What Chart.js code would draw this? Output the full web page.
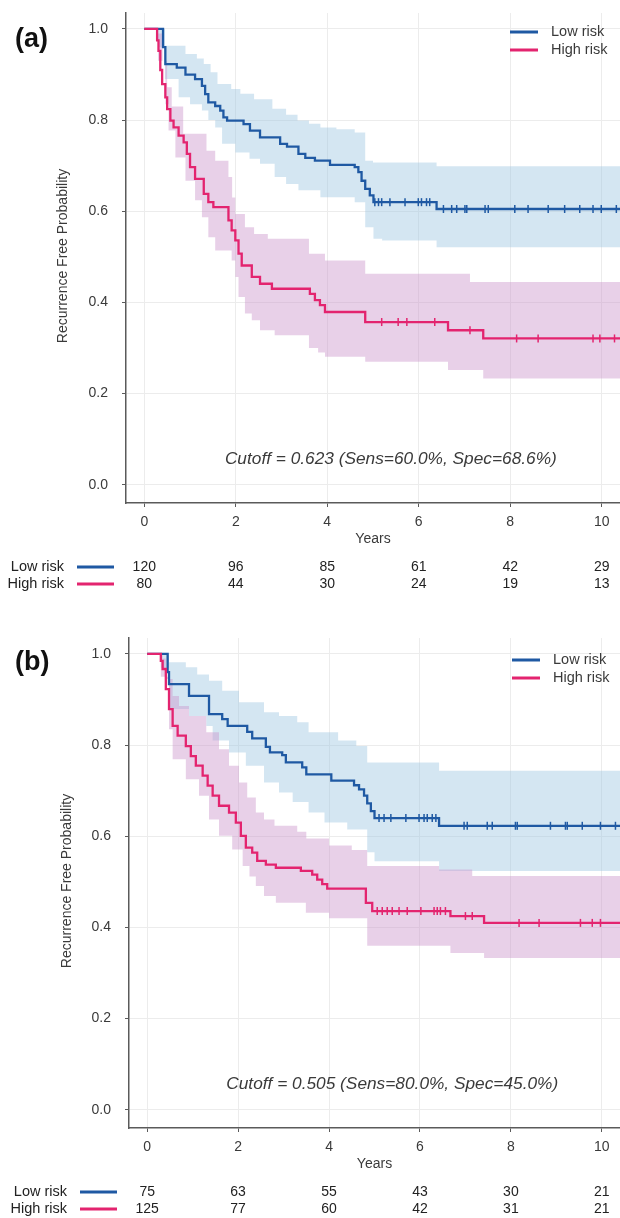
<!DOCTYPE html>
<html>
<head>
<meta charset="utf-8">
<script src="https://cdn.jsdelivr.net/npm/chart.js@4/dist/chart.umd.min.js"></script>
<style>
  html, body { margin: 0; padding: 0; background: #ffffff; }
  body { width: 620px; height: 1218px; position: relative; overflow: hidden; }
  .panel { position: absolute; left: 0; width: 620px; }
</style>
</head>
<body>
<div class="panel" style="top:-13px;height:622px"><canvas id="chartA" width="620" height="622"></canvas></div>
<div class="panel" style="top:609px;height:609px"><canvas id="chartB" width="620" height="609"></canvas></div>
<script>
// ---------- shared axis / table data ----------
const xTicks = [0, 2, 4, 6, 8, 10];
const yTicks = [0, 0.2, 0.4, 0.6, 0.8, 1.0];
const riskTimes = [0, 2, 4, 6, 8, 10];
const groupNames = ['Low risk', 'High risk'];

// ---------- panel (a) ----------
const aLowT = [0, 0.41, 0.46, 0.71, 0.90, 1.11, 1.26, 1.33, 1.40, 1.55, 1.66, 1.73, 1.81, 2.17, 2.31, 2.53, 2.97, 3.12, 3.37, 3.52, 3.73, 4.06, 4.60, 4.68, 4.75, 4.83, 4.93, 5.01, 6.39, 10.4];
const aLowS = [1, 0.96, 0.923, 0.915, 0.90, 0.89, 0.875, 0.857, 0.839, 0.831, 0.821, 0.806, 0.799, 0.791, 0.777, 0.762, 0.748, 0.742, 0.726, 0.717, 0.711, 0.702, 0.697, 0.686, 0.667, 0.649, 0.635, 0.620, 0.605, 0.605];
const aLowUpT = [0, 0.45, 0.90, 1.15, 1.30, 1.45, 1.60, 1.90, 2.10, 2.40, 2.80, 3.10, 3.35, 3.60, 3.85, 4.20, 4.60, 4.83, 5.00, 6.39, 10.4];
const aLowUpS = [1, 0.963, 0.945, 0.935, 0.923, 0.905, 0.879, 0.868, 0.858, 0.846, 0.825, 0.812, 0.799, 0.792, 0.784, 0.780, 0.773, 0.711, 0.707, 0.699, 0.699];
const aLowLoT = [0, 0.30, 0.45, 0.75, 1.00, 1.26, 1.40, 1.55, 1.70, 1.99, 2.30, 2.53, 2.85, 3.10, 3.37, 3.85, 4.60, 4.83, 5.01, 5.20, 6.39, 10.4];
const aLowLoS = [1, 0.96, 0.89, 0.85, 0.835, 0.821, 0.80, 0.784, 0.748, 0.729, 0.715, 0.704, 0.675, 0.66, 0.646, 0.631, 0.62, 0.565, 0.54, 0.536, 0.521, 0.521];
const aLowCens = [5.04, 5.12, 5.19, 5.37, 5.70, 5.99, 6.06, 6.17, 6.24, 6.54, 6.72, 6.83, 7.01, 7.05, 7.45, 7.52, 8.10, 8.39, 8.83, 9.19, 9.52, 9.81, 9.99, 10.32];

const aHighT = [0, 0.28, 0.31, 0.35, 0.39, 0.46, 0.50, 0.57, 0.64, 0.75, 0.86, 0.93, 1.00, 1.11, 1.30, 1.40, 1.51, 1.84, 1.91, 1.99, 2.06, 2.13, 2.35, 2.53, 2.79, 3.62, 3.73, 3.84, 3.95, 4.83, 6.64, 7.41, 10.4];
const aHighS = [1, 0.975, 0.952, 0.91, 0.879, 0.85, 0.824, 0.799, 0.784, 0.766, 0.751, 0.726, 0.697, 0.671, 0.638, 0.62, 0.609, 0.58, 0.558, 0.536, 0.507, 0.481, 0.456, 0.441, 0.430, 0.419, 0.405, 0.394, 0.379, 0.357, 0.339, 0.321, 0.321];
const aHighUpT = [0, 0.30, 0.40, 0.50, 0.60, 0.85, 1.36, 1.55, 1.84, 1.92, 1.99, 2.20, 2.40, 2.70, 3.60, 3.95, 4.83, 7.12, 10.4];
const aHighUpS = [1, 0.99, 0.93, 0.872, 0.83, 0.77, 0.733, 0.711, 0.675, 0.63, 0.594, 0.565, 0.55, 0.54, 0.507, 0.492, 0.463, 0.445, 0.445];
const aHighLoT = [0, 0.30, 0.46, 0.53, 0.68, 0.90, 1.11, 1.26, 1.40, 1.55, 1.91, 1.99, 2.06, 2.20, 2.35, 2.53, 2.85, 3.60, 3.80, 3.95, 4.83, 6.64, 7.41, 10.4];
const aHighLoS = [1, 0.93, 0.835, 0.777, 0.718, 0.667, 0.624, 0.587, 0.543, 0.514, 0.492, 0.456, 0.412, 0.376, 0.361, 0.339, 0.328, 0.30, 0.29, 0.281, 0.270, 0.252, 0.233, 0.233];
const aHighCens = [5.19, 5.55, 5.74, 6.35, 7.12, 8.14, 8.61, 9.81, 9.96, 10.28];

const aRiskLow = [120, 96, 85, 61, 42, 29];
const aRiskHigh = [80, 44, 30, 24, 19, 13];
const aLabel = '(a)';
const aNote = 'Cutoff = 0.623 (Sens=60.0%, Spec=68.6%)';

// ---------- panel (b) ----------
const bLowT = [0, 0.45, 0.48, 0.92, 1.36, 1.65, 1.77, 2.20, 2.31, 2.61, 2.70, 2.97, 3.05, 3.41, 3.50, 4.05, 4.55, 4.66, 4.77, 4.84, 4.92, 5.00, 6.42, 10.4];
const bLowS = [1, 0.96, 0.934, 0.908, 0.868, 0.857, 0.842, 0.829, 0.815, 0.796, 0.784, 0.778, 0.762, 0.751, 0.736, 0.722, 0.712, 0.703, 0.689, 0.672, 0.655, 0.640, 0.623, 0.623];
const bLowUpT = [0, 0.48, 0.85, 1.10, 1.36, 1.65, 2.02, 2.57, 2.90, 3.30, 3.55, 4.20, 4.60, 4.84, 6.42, 10.4];
const bLowUpS = [1, 0.982, 0.971, 0.955, 0.941, 0.919, 0.894, 0.872, 0.864, 0.85, 0.828, 0.81, 0.798, 0.762, 0.744, 0.744];
const bLowLoT = [0, 0.30, 0.48, 0.92, 1.30, 1.44, 1.80, 2.17, 2.57, 2.90, 3.20, 3.55, 3.90, 4.40, 4.84, 5.00, 6.42, 10.4];
const bLowLoS = [1, 0.97, 0.879, 0.864, 0.842, 0.81, 0.784, 0.755, 0.718, 0.696, 0.675, 0.652, 0.63, 0.615, 0.565, 0.545, 0.524, 0.524];
const bLowCens = [5.10, 5.21, 5.36, 5.69, 5.98, 6.09, 6.16, 6.27, 6.35, 6.97, 7.04, 7.48, 7.59, 8.10, 8.14, 8.87, 9.20, 9.24, 9.57, 9.97, 10.30];

const bHighT = [0, 0.30, 0.34, 0.41, 0.48, 0.56, 0.67, 0.85, 0.96, 1.07, 1.22, 1.33, 1.44, 1.58, 1.80, 1.95, 2.06, 2.17, 2.31, 2.42, 2.61, 2.83, 3.38, 3.63, 3.74, 3.85, 3.96, 4.81, 4.95, 6.67, 7.41, 10.4];
const bHighS = [1, 0.985, 0.967, 0.923, 0.879, 0.842, 0.821, 0.798, 0.776, 0.755, 0.733, 0.711, 0.689, 0.667, 0.652, 0.630, 0.601, 0.575, 0.564, 0.546, 0.538, 0.531, 0.524, 0.516, 0.505, 0.495, 0.485, 0.454, 0.436, 0.425, 0.410, 0.410];
const bHighUpT = [0, 0.34, 0.41, 0.56, 0.70, 0.92, 1.30, 1.58, 1.80, 2.02, 2.20, 2.39, 2.57, 2.80, 3.30, 3.50, 4.00, 4.50, 4.84, 6.42, 7.15, 10.4];
const bHighUpS = [1, 0.99, 0.945, 0.908, 0.886, 0.864, 0.828, 0.791, 0.755, 0.718, 0.685, 0.652, 0.637, 0.623, 0.61, 0.595, 0.58, 0.57, 0.535, 0.527, 0.513, 0.513];
const bHighLoT = [0, 0.30, 0.48, 0.56, 0.85, 1.14, 1.36, 1.58, 1.87, 2.10, 2.25, 2.39, 2.57, 2.83, 3.49, 4.00, 4.84, 6.67, 7.41, 10.4];
const bHighLoS = [1, 0.95, 0.835, 0.769, 0.725, 0.689, 0.637, 0.601, 0.571, 0.535, 0.512, 0.491, 0.469, 0.454, 0.432, 0.42, 0.36, 0.344, 0.333, 0.333];
const bHighCens = [5.06, 5.17, 5.28, 5.39, 5.54, 5.72, 6.02, 6.31, 6.38, 6.45, 6.56, 7.00, 7.15, 8.18, 8.62, 9.53, 9.79, 9.97];

const bRiskLow = [75, 63, 55, 43, 30, 21];
const bRiskHigh = [125, 77, 60, 42, 31, 21];
const bLabel = '(b)';
const bNote = 'Cutoff = 0.505 (Sens=80.0%, Spec=45.0%)';

// ---------- styling ----------
const FONT = '"Liberation Sans", Arial, Helvetica, sans-serif';
const BLUE = '#1f59a3';
const PINK = '#e3246f';
const BLUE_BAND = 'rgba(160,200,226,0.45)';
const PINK_BAND = 'rgba(205,150,205,0.45)';
const AXIS = '#5a5a5a';
const GRID = '#ececec';
const TEXT = '#3a3a3a';

function pts(T, S) { return T.map((t, i) => ({ x: t, y: S[i] })); }
function stepAt(T, S, t) { let v = S[0]; for (let i = 0; i < T.length; i++) { if (T[i] <= t) v = S[i]; } return v; }
function censPts(C, T, S) { return C.map(t => ({ x: t, y: stepAt(T, S, t) })); }

function makePanel(id, p) {
  const textPlugin = {
    id: 'kmText_' + id,
    afterDraw(chart) {
      const ctx = chart.ctx;
      const xs = chart.scales.x, ys = chart.scales.y;
      const area = chart.chartArea;
      ctx.save();
      // panel label
      ctx.fillStyle = '#111';
      ctx.font = 'bold 27px ' + FONT;
      ctx.textAlign = 'left';
      ctx.textBaseline = 'alphabetic';
      ctx.fillText(p.label, 15, p.labelBase);
      // y axis title
      ctx.save();
      ctx.translate(p.yTitleX, (area.top + area.bottom) / 2 - 2);
      ctx.rotate(-Math.PI / 2);
      ctx.font = '14px ' + FONT;
      ctx.fillStyle = TEXT;
      ctx.textAlign = 'center';
      ctx.textBaseline = 'middle';
      ctx.fillText('Recurrence Free Probability', 0, 0);
      ctx.restore();
      // legend
      const colors = [BLUE, PINK];
      ctx.font = '14.5px ' + FONT;
      ctx.textBaseline = 'middle';
      ctx.textAlign = 'left';
      groupNames.forEach((g, i) => {
        const y = p.legendY + i * 18;
        ctx.strokeStyle = colors[i];
        ctx.lineWidth = 3;
        ctx.beginPath();
        ctx.moveTo(p.legendX, y);
        ctx.lineTo(p.legendX + 28, y);
        ctx.stroke();
        ctx.fillStyle = TEXT;
        ctx.fillText(g, p.legendX + 41, y);
      });
      // annotation
      ctx.font = 'italic 17.3px ' + FONT;
      ctx.fillStyle = TEXT;
      ctx.textAlign = 'center';
      ctx.textBaseline = 'middle';
      ctx.fillText(p.note, xs.getPixelForValue(5.39), ys.getPixelForValue(0.056));
      // x title
      ctx.font = '14px ' + FONT;
      ctx.fillText('Years', xs.getPixelForValue(5), area.bottom + 36);
      // risk table
      const rows = [p.riskLow, p.riskHigh];
      rows.forEach((row, i) => {
        const y = area.bottom + 64 + i * 17;
        ctx.font = '14.5px ' + FONT;
        ctx.fillStyle = '#222';
        ctx.textAlign = 'right';
        ctx.fillText(groupNames[i], area.left - 62, y);
        ctx.strokeStyle = colors[i];
        ctx.lineWidth = 3;
        ctx.beginPath();
        ctx.moveTo(area.left - 49, y);
        ctx.lineTo(area.left - 12, y);
        ctx.stroke();
        ctx.textAlign = 'center';
        ctx.font = '14px ' + FONT;
        row.forEach((n, j) => {
          ctx.fillText(String(n), xs.getPixelForValue(riskTimes[j]), y);
        });
      });
      ctx.restore();
    }
  };

  return new Chart(document.getElementById(id), {
    type: 'line',
    data: {
      datasets: [
        { label: 'Low risk upper', data: pts(p.lowUpT, p.lowUpS), stepped: true, borderWidth: 0, pointRadius: 0, backgroundColor: BLUE_BAND, fill: '+1', order: 20 },
        { label: 'Low risk lower', data: pts(p.lowLoT, p.lowLoS), stepped: true, borderWidth: 0, pointRadius: 0, fill: false, order: 20 },
        { label: 'High risk upper', data: pts(p.highUpT, p.highUpS), stepped: true, borderWidth: 0, pointRadius: 0, backgroundColor: PINK_BAND, fill: '+1', order: 15 },
        { label: 'High risk lower', data: pts(p.highLoT, p.highLoS), stepped: true, borderWidth: 0, pointRadius: 0, fill: false, order: 15 },
        { label: 'Low risk', data: pts(p.lowT, p.lowS), stepped: true, borderColor: BLUE, borderWidth: 2.3, pointRadius: 0, fill: false, order: 2 },
        { label: 'High risk', data: pts(p.highT, p.highS), stepped: true, borderColor: PINK, borderWidth: 2.3, pointRadius: 0, fill: false, order: 1 },
        { label: 'Low risk censored', data: censPts(p.lowCens, p.lowT, p.lowS), showLine: false, pointStyle: 'line', rotation: 90, pointRadius: 4, borderColor: BLUE, borderWidth: 1.5, order: 2 },
        { label: 'High risk censored', data: censPts(p.highCens, p.highT, p.highS), showLine: false, pointStyle: 'line', rotation: 90, pointRadius: 4, borderColor: PINK, borderWidth: 1.5, order: 1 }
      ]
    },
    options: {
      responsive: false,
      animation: false,
      devicePixelRatio: 1,
      events: [],
      layout: { padding: { left: 0, right: 0, top: p.padTop, bottom: 0 }, autoPadding: false },
      plugins: { legend: { display: false }, tooltip: { enabled: false } },
      scales: {
        x: {
          type: 'linear', min: -0.4, max: 10.4,
          afterBuildTicks: s => { s.ticks = xTicks.map(v => ({ value: v })); },
          afterFit: s => { s.height = p.xAxisH; },
          grid: { color: GRID, lineWidth: 1, tickColor: AXIS, tickLength: 4, drawTicks: true },
          border: { color: AXIS, width: 1.5 },
          ticks: { color: TEXT, font: { family: FONT, size: 14 }, padding: 7, maxRotation: 0, autoSkip: false, callback: v => String(v) }
        },
        y: {
          type: 'linear', min: -0.04, max: 1.035,
          afterBuildTicks: s => { s.ticks = yTicks.map(v => ({ value: v })); },
          afterFit: s => { s.width = p.yAxisW; },
          grid: { color: GRID, lineWidth: 1, tickColor: AXIS, tickLength: 4, drawTicks: true },
          border: { color: AXIS, width: 1.5 },
          ticks: { color: TEXT, font: { family: FONT, size: 14 }, padding: 14, autoSkip: false, callback: v => Number(v).toFixed(1) }
        }
      }
    },
    plugins: [textPlugin]
  });
}

makePanel('chartA', {
  lowT: aLowT, lowS: aLowS, lowUpT: aLowUpT, lowUpS: aLowUpS, lowLoT: aLowLoT, lowLoS: aLowLoS, lowCens: aLowCens,
  highT: aHighT, highS: aHighS, highUpT: aHighUpT, highUpS: aHighUpS, highLoT: aHighLoT, highLoS: aHighLoS, highCens: aHighCens,
  riskLow: aRiskLow, riskHigh: aRiskHigh, label: aLabel, note: aNote,
  padTop: 26, yAxisW: 126, xAxisH: 106, labelBase: 60, yTitleX: 63, legendX: 510, legendY: 45
});
makePanel('chartB', {
  lowT: bLowT, lowS: bLowS, lowUpT: bLowUpT, lowUpS: bLowUpS, lowLoT: bLowLoT, lowLoS: bLowLoS, lowCens: bLowCens,
  highT: bHighT, highS: bHighS, highUpT: bHighUpT, highUpS: bHighUpS, highLoT: bHighLoT, highLoS: bHighLoS, highCens: bHighCens,
  riskLow: bRiskLow, riskHigh: bRiskHigh, label: bLabel, note: bNote,
  padTop: 29, yAxisW: 129, xAxisH: 90, labelBase: 61, yTitleX: 67, legendX: 512, legendY: 51
});
</script>
</body>
</html>
